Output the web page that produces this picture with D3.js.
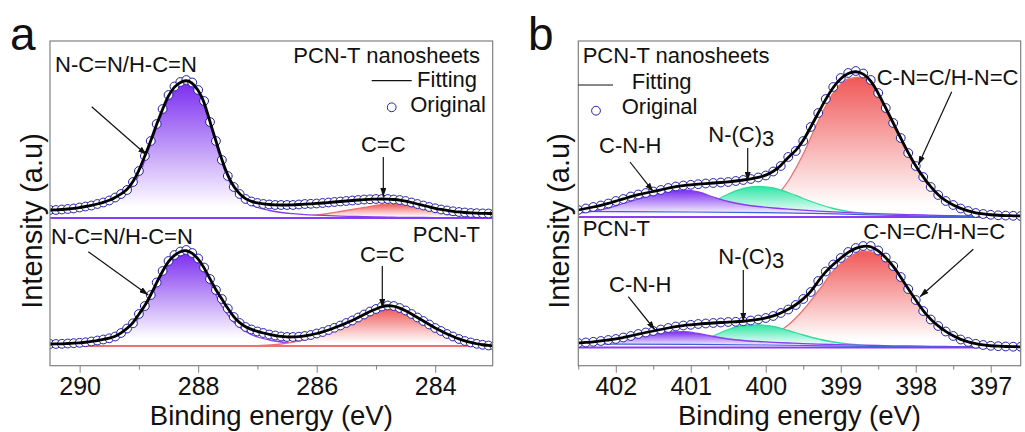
<!DOCTYPE html>
<html><head><meta charset="utf-8">
<script src="https://cdn.jsdelivr.net/npm/d3@7"></script>
<style>
body{margin:0;background:#fff}
svg{display:block}
text{font-family:"Liberation Sans",Arial,sans-serif;fill:#111}
</style>
</head><body>
<svg id="c" width="1025" height="432"></svg>
<script>
// ================= DATA =================
// energy grids (binding energy, eV)
const stepData = 0.1, stepComp = 0.2;
const dataStartA = 290.5, dataStartB = 402.5;

// Panel a: C 1s  (intensity, a.u., relative to each spectrum offset)
const nanoC1s = [
  6,6,6.5,7,7.5,8.5,9.5,10.5,12,13.5,
  15.5,18.5,22,26,34,45,60,75,92,107,
  121,129.5,134,136,133.5,126,115,94,75,56,
  40,29,22,17,14.5,13,12,11.5,11,11,
  11,11,11.5,12,12.2,12.5,13,13.5,14,14.5,
  15,15.5,16,16.5,16.7,17,17,17,16.5,16,
  15,13.5,12,10.5,9,7.7,6.5,5.5,4.7,4,
  3.5,3,2.8,2.6,2.5,2.5];
const pcnC1s = [
  2,2,2.2,2.5,2.8,3.2,3.7,4.5,5.5,6.5,
  7.7,9.5,13,17.5,22.7,32,40,51,63.5,75,
  85,91,94.5,96,93,87.5,78.5,67,56,47,
  37.5,29,23,19,16.5,14.5,13,11.5,10.5,9.5,
  9,9,9.3,10,11,12.5,14,16,18.2,20.5,
  23,25.5,28.5,31.5,34.5,37,39.5,40.5,40,38,
  35.5,32,28.5,25,21.5,18,15,12,9.5,7,
  5,3.5,2.2,1.2,0.5,0];
// fitted components panel a (0.2 eV grid)
const nanoNCN_start = 290.6;
const nanoNCN = [4,4.3,5,6,8,11,15.5,23,41,72,104,126.5,134,124,91,53,26,14,8.5,
  5.5,3.5,2.3,1.4,0.8,0.3,-0.1,-0.4,-0.7,-0.9,-1.1,-1.3,-1.4,-1.5,-1.6,-1.7,-1.8,-1.85,-1.9,-1.95];
const nanoCC_start = 286.8;
const nanoCC = [-1.8,-1.5,-1,-0.2,1,2.5,4.5,6.5,8.5,10.5,12,11.5,9.5,7,4.5,2,0.3,-0.8,-1.5,-1.8];
const pcnNCN_start = 290.6;
const pcnNCN = [1.4,1.6,2,2.6,3.8,5.5,8.5,15,28,49,72,88,93.5,85,63,40,24,14.5,9,6,
  4,2.7,1.8,1.2,0.8,0.5,0.3,0.2,0.1,0,0,0,0,0,0,0,0,0,0];
const pcnCC_start = 287.0;
const pcnCC = [0.3,1,2,3.8,6.5,10.5,15,20,25.5,31,35.5,38,36.5,31,24,16.5,10.5,6,3,1.3,0.5];

// Panel b: N 1s
const nanoN1s = [
  6,7.5,9,10.5,12.5,15,17,19.5,21.5,23,
  24.5,26,28,29.5,30.5,31.2,31.8,32.5,33,33.5,
  34,35,36,37,38.5,40.5,44.5,50,59,65,
  75,89,103,117,129,138,143,145,142.5,136,
  123,108,93,78,63,50,39,29,21,15,
  11,7.5,5,3,2,1.2,0.7,0.4,0.2,0];
const pcnN1s = [
  3,3.5,4.2,5,6,7,8.5,10,12,13.5,
  15,16.5,18,19.5,20.5,21.2,22,22.5,23,23.5,
  24,24.2,24.7,25.5,26.5,28,30,33,36.5,41,
  47,54,65,74.5,81.5,88,94,98,100,100,
  95.5,88.5,80,69,57,46,35,26.5,20,14.5,
  10,6.5,4,2.2,1,0.2,-0.2,-0.5,-0.7,-0.8];
const nanoCNH_start = 402.5;
const nanoCNH = [3,5,8,12.5,17,21.5,24.5,26,24,19,14.5,11.5,9.5,8,6.8,5.8,4.9,4.1,3.4,2.8,
  2.3,1.8,1.4,1,0.6,0.3,0,-0.3,-0.6,-0.8];
const nanoNC3_start = 401.3;
const nanoNC3 = [-0.5,1.5,6,14,22,27.5,29.5,28,23.5,17.5,12,7.5,4.5,2.5,1.2,0.4,-0.2,-0.6,-0.9];
const nanoCNC_start = 400.9;
const nanoCNC = [-0.5,0.5,2,4.5,9,17,35,62,95,123,137,139,120,91,61,37,20,10,4.5,1.5,0,-0.7];
const pcnCNH_start = 402.5;
const pcnCNH = [1.5,3,5,7,9.5,12,13.8,14.3,12.5,9.5,7,5.5,4.5,3.7,3,2.4,1.9,1.5,1.1,0.8,
  0.5,0.2,0,-0.2,-0.4,-0.6,-0.8,-1,-1.2,-1.3];
const pcnNC3_start = 401.1;
const pcnNC3 = [-1,3,10,16.5,20.5,21,19.5,15.5,11,7,4,2,0.7,-0.2,-0.8,-1.2];
const pcnCNC_start = 400.7;
const pcnCNC = [-1,0.5,2.5,5.5,11,21,36,55,75,88,95,92,78,56,35,19,9,3.5,0.8,-0.5,-1.2];
// background lines panel b
const bgEnergyB = [402.5,401.0,400.0,399.2,398.6,398.0,397.4,396.6];
const bgNanoB = [4.5,4,3.3,2.3,1.2,0.2,-0.3,-0.5];
const bgPcnB = [2,1.6,1.0,0.2,-0.5,-1.0,-1.2,-1.3];

// ticks
const majorTicksA = [290,288,286,284];
const minorTicksA = [289,287,285];
const majorTicksB = [402,401,400,399,398,397];
const minorTicksB = [402.5,401.5,400.5,399.5,398.5,397.5];

// ================= DRAW =================
const svg = d3.select('#c');
const defs = svg.append('defs');
defs.append('marker').attr('id','arr').attr('viewBox','0 0 10 10')
  .attr('refX',10).attr('refY',5).attr('markerWidth',9).attr('markerHeight',6)
  .attr('markerUnits','userSpaceOnUse').attr('orient','auto').attr('preserveAspectRatio','none')
  .append('path').attr('d','M0,0L10,5L0,10z').attr('fill','#111');

const PT = 41, PB = 365.7;
const y = d3.scaleLinear().domain([0,325]).range([366,41]);
const OFF_TOP = 150, OFF_BOT = 20;

const COL = {
  purple:{fill:'#7b2cf0', line:'#8a3cf2'},
  red:{fill:'#f05858', line:'#ec7272'},
  green:{fill:'#2ee6a6', line:'#34dca0'}
};
let gid = 0;
const series = (start, step, vals) => vals.map((v,i)=>[+(start - i*step).toFixed(3), v]);

function drawPanel(o){
  const x = d3.scaleLinear().domain(o.domain).range([o.left, o.right]);
  const cid = 'clip'+o.name;
  defs.append('clipPath').attr('id',cid).append('rect')
    .attr('x',o.left).attr('y',PT).attr('width',o.right-o.left).attr('height',PB-PT);
  const g = svg.append('g').attr('clip-path',`url(#${cid})`);
  o.spectra.forEach(s=>{
    const yy = v => y(s.offset + v);
    s.comps.forEach(c=>{
      const pts = series(c.start, stepComp, c.vals);
      const id = 'gr'+(gid++);
      const maxV = d3.max(c.vals);
      const lg = defs.append('linearGradient').attr('id',id).attr('gradientUnits','userSpaceOnUse')
        .attr('x1',0).attr('x2',0).attr('y1',yy(maxV)).attr('y2',yy(s.zero));
      lg.append('stop').attr('offset',0).attr('stop-color',COL[c.color].fill);
      lg.append('stop').attr('offset',0.92).attr('stop-color','#ffffff');
      const area = d3.area().x(d=>x(d[0])).y0(yy(s.zero)).y1(d=>yy(Math.max(d[1],s.zero))).curve(d3.curveMonotoneX);
      g.append('path').attr('d',area(pts)).attr('fill',`url(#${id})`);
      const ln = d3.line().x(d=>x(d[0])).y(d=>yy(Math.max(d[1],s.zero))).curve(d3.curveMonotoneX);
      g.append('path').attr('d',ln(pts)).attr('fill','none').attr('stroke',COL[c.color].line).attr('stroke-width',1.3);
    });
    // zero line of the fitted components, across the full range
    g.append('line').attr('x1',o.left).attr('x2',o.right)
      .attr('y1',yy(s.zero)).attr('y2',yy(s.zero)).attr('stroke',COL[s.zeroColor].line).attr('stroke-width',2);
    if (s.bg){
      const bp = s.bgE.map((e,i)=>[e, s.bg[i]]);
      g.append('path').attr('d',d3.line().x(d=>x(d[0])).y(d=>yy(d[1])).curve(d3.curveMonotoneX)(bp))
        .attr('fill','none').attr('stroke','#3d63d8').attr('stroke-width',1.2);
    }
    const pts = series(s.start, stepData, s.data);
    g.selectAll(null).data(pts).enter().append('circle')
      .attr('cx',d=>x(d[0])).attr('cy',d=>yy(d[1])).attr('r',4.4)
      .attr('fill','#fff').attr('stroke','#2222aa').attr('stroke-width',1);
    g.append('path').attr('d',d3.line().x(d=>x(d[0])).y(d=>yy(d[1])).curve(d3.curveBasis)(pts))
      .attr('fill','none').attr('stroke','#000').attr('stroke-width',2.8);
  });
  // frame
  svg.append('rect').attr('x',o.left).attr('y',PT).attr('width',o.right-o.left).attr('height',PB-PT)
    .attr('fill','none').attr('stroke','#808080').attr('stroke-width',1.2);
  // axes
  const ax = svg.append('g').attr('transform',`translate(0,${PB})`)
    .call(d3.axisBottom(x).tickValues(o.majors).tickSize(7).tickPadding(5).tickFormat(d3.format('d')));
  ax.select('.domain').remove();
  ax.selectAll('line').attr('stroke','#808080');
  ax.selectAll('text').attr('font-size',25).attr('fill','#111').style('font-family','"Liberation Sans",Arial,sans-serif');
  const ax2 = svg.append('g').attr('transform',`translate(0,${PB})`)
    .call(d3.axisBottom(x).tickValues(o.minors).tickSize(4).tickFormat(''));
  ax2.select('.domain').remove();
  ax2.selectAll('line').attr('stroke','#808080');
  svg.append('text').attr('x',(o.left+o.right)/2).attr('y',425).attr('text-anchor','middle')
    .attr('font-size',27.5).text('Binding energy (eV)');
  svg.append('text').attr('transform',`translate(${o.ylabX},221) rotate(-90)`).attr('text-anchor','middle')
    .attr('font-size',29).text('Intensity (a.u)');
  svg.append('text').attr('x',o.letterX).attr('y',50).attr('font-size',46).text(o.name);
  return x;
}

drawPanel({name:'a', domain:[290.5,283.03], left:50, right:492.7, majors:majorTicksA, minors:minorTicksA,
  ylabX:41.5, letterX:10,
  spectra:[
    {offset:OFF_TOP, zero:-2, zeroColor:'purple', start:dataStartA, data:nanoC1s,
      comps:[{start:nanoCC_start, vals:nanoCC, color:'red'},{start:nanoNCN_start, vals:nanoNCN, color:'purple'}]},
    {offset:OFF_BOT, zero:0, zeroColor:'red', start:dataStartA, data:pcnC1s,
      comps:[{start:pcnNCN_start, vals:pcnNCN, color:'purple'},{start:pcnCC_start, vals:pcnCC, color:'red'}]}
  ]});
drawPanel({name:'b', domain:[402.5,396.6], left:578.3, right:1020.7, majors:majorTicksB, minors:minorTicksB,
  ylabX:569, letterX:528,
  spectra:[
    {offset:OFF_TOP, zero:-1, zeroColor:'purple', start:dataStartB, data:nanoN1s, bgE:bgEnergyB, bg:bgNanoB,
      comps:[{start:nanoCNC_start, vals:nanoCNC, color:'red'},{start:nanoNC3_start, vals:nanoNC3, color:'green'},{start:nanoCNH_start, vals:nanoCNH, color:'purple'}]},
    {offset:OFF_BOT, zero:-1.5, zeroColor:'purple', start:dataStartB, data:pcnN1s, bgE:bgEnergyB, bg:bgPcnB,
      comps:[{start:pcnCNC_start, vals:pcnCNC, color:'red'},{start:pcnNC3_start, vals:pcnNC3, color:'green'},{start:pcnCNH_start, vals:pcnCNH, color:'purple'}]}
  ]});

// ================= ANNOTATIONS =================
function label(x0, y0, txt, anchor, sub){
  const t = svg.append('text').attr('x',x0).attr('y',y0).attr('font-size',22).attr('text-anchor',anchor||'start');
  t.append('tspan').text(txt);
  if (sub) t.append('tspan').attr('dy',4).text(sub);
}
function arrow(x1,y1,x2,y2){
  svg.append('line').attr('x1',x1).attr('y1',y1).attr('x2',x2).attr('y2',y2)
    .attr('stroke','#111').attr('stroke-width',1.2).attr('marker-end','url(#arr)');
}
// panel a top
label(55,72,'N-C=N/H-C=N'); arrow(91.7,106.7,146.7,155);
label(383.3,152,'C=C','middle'); arrow(383.3,157,383.3,197);
label(480,63,'PCN-T nanosheets','end');
svg.append('line').attr('x1',371.7).attr('x2',411.7).attr('y1',80.7).attr('y2',80.7).attr('stroke','#111').attr('stroke-width',1.2);
label(477,87,'Fitting','end');
svg.append('circle').attr('cx',391.7).attr('cy',107.3).attr('r',4.4).attr('fill','#fff').attr('stroke','#2222aa');
label(486,112,'Original','end');
// panel a bottom
label(51,244,'N-C=N/H-C=N'); arrow(88.3,251.7,148.3,295);
label(480,241.7,'PCN-T','end');
label(382.3,261.7,'C=C','middle'); arrow(382.3,266,382.3,308);
// panel b top
label(582.7,63,'PCN-T nanosheets');
svg.append('line').attr('x1',578.3).attr('x2',613).attr('y1',85).attr('y2',85).attr('stroke','#111').attr('stroke-width',1.2);
label(631.7,89,'Fitting');
svg.append('circle').attr('cx',596).attr('cy',110.7).attr('r',4.4).attr('fill','#fff').attr('stroke','#2222aa');
label(621.7,114,'Original');
label(599,153,'C-N-H'); arrow(630,162,653.3,191.7);
label(708.3,142,'N-(C)','start','3'); arrow(747.7,148,747.7,181);
label(876.7,85,'C-N=C/H-N=C'); arrow(951.7,91.7,918.3,165);
// panel b bottom
label(582.7,235.7,'PCN-T');
label(609,291.7,'C-N-H'); arrow(628.3,296.7,655,330);
label(718.3,264,'N-(C)','start','3'); arrow(743.3,270,743.3,321.7);
label(863.3,239.3,'C-N=C/H-N=C'); arrow(973.3,249.3,920,296.7);
</script>
</body></html>
